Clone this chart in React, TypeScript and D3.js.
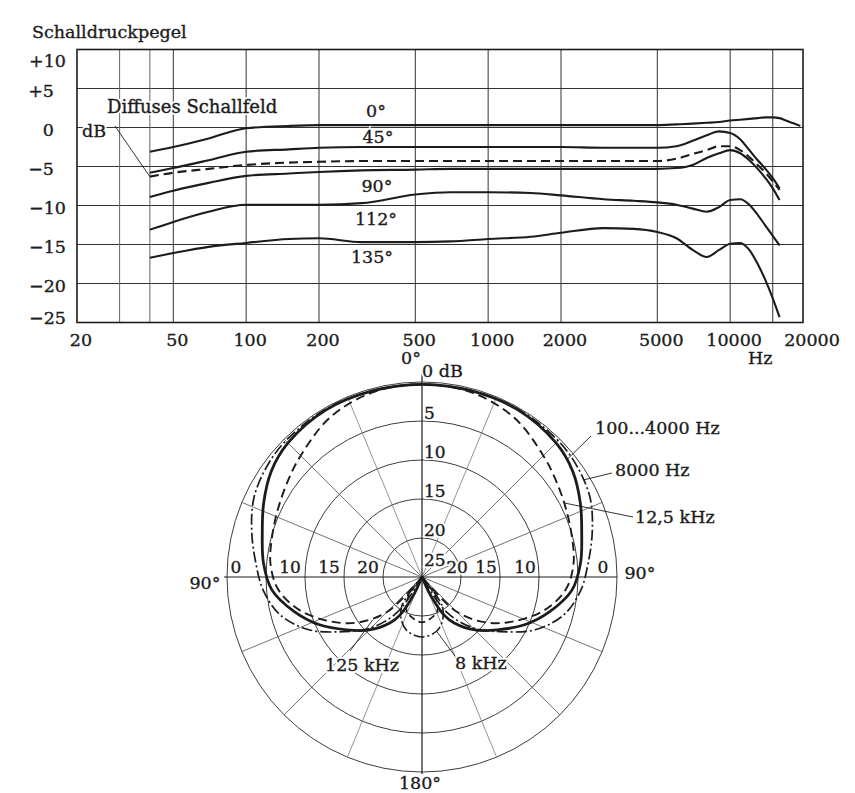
import React, { useRef, useEffect } from 'react';
import * as d3 from 'd3';

// Frequenzgang (oben) – Schalldruckpegel in dB je Einfallswinkel
const freqs = [40, 50, 70, 100, 150, 200, 300, 500, 700, 1000, 1500, 2000, 3000, 4000, 5000, 6000, 7000, 8000, 9000, 10000, 11000, 12000, 13000, 14000, 15000, 16000, 17000, 18000, 19500];
const deg0 = [-3.1, -2.5, -1.4, -0.1, 0.2, 0.3, 0.3, 0.3, 0.3, 0.3, 0.3, 0.3, 0.3, 0.3, 0.3, 0.4, 0.5, 0.6, 0.7, 0.9, 1.0, 1.1, 1.2, 1.3, 1.3, 1.2, 0.9, 0.6, 0.2];
const deg45 = [-5.8, -5.2, -4.2, -3.1, -2.8, -2.6, -2.5, -2.5, -2.5, -2.5, -2.5, -2.5, -2.6, -2.6, -2.6, -2.4, -1.7, -1.0, -0.5, -0.7, -1.5, -2.9, -4.2, -5.3, -6.5, -7.8, null, null, null];
const diffus = [-6.3, -5.8, -5.3, -4.8, -4.5, -4.4, -4.3, -4.3, -4.3, -4.3, -4.3, -4.3, -4.3, -4.3, -4.3, -4.0, -3.4, -2.9, -2.4, -2.4, -2.9, -3.8, -4.8, -5.8, -6.9, -8.0, null, null, null];
const deg90 = [-8.9, -8.1, -7.1, -6.2, -5.9, -5.7, -5.5, -5.4, -5.3, -5.3, -5.3, -5.3, -5.3, -5.3, -5.3, -5.2, -4.8, -3.9, -3.3, -2.9, -3.3, -4.2, -5.3, -6.5, -7.8, -9.3, null, null, null];
const deg112 = [-13.1, -12.1, -10.8, -9.9, -9.9, -9.9, -9.7, -8.6, -8.3, -8.3, -8.4, -8.7, -9.2, -9.4, -9.6, -9.9, -10.4, -10.8, -10.2, -9.3, -9.2, -9.9, -11.2, -12.6, -13.9, -15.1, null, null, null];
const deg135 = [-16.7, -16.1, -15.3, -14.8, -14.3, -14.2, -14.7, -14.7, -14.6, -14.3, -14.0, -13.5, -12.9, -13.0, -13.4, -14.2, -15.7, -16.6, -15.7, -14.9, -14.8, -15.7, -17.5, -19.6, -21.9, -24.3, null, null, null];

const yTicks = [10, 5, 0, -5, -10, -15, -20, -25];
const xTickLabels = [20, 50, 100, 200, 500, 1000, 2000, 5000, 10000, 20000];
const xGrid = [30, 40, 50, 100, 200, 500, 1000, 2000, 5000, 10000, 15000];

// Richtcharakteristik (unten) – Dämpfung in dB über dem Winkel
const polarAngles = [0, 15, 30, 45, 55, 65, 75, 85, 95, 105, 115, 125, 135, 145, 150, 155, 160];
const hz100to4000 = [0.3, 0.3, 0.3, 0.7, 1.4, 2.6, 3.8, 4.6, 5.7, 8.0, 10.5, 13.2, 15.4, 17.8, 19.4, 22.5, 25];
const hz8000 = [0.3, 0.3, 0.2, 0.3, 0.6, 1.2, 2.4, 3.6, 4.6, 6.2, 9.0, 12.8, 15.8, 19.5, 25, 25, 25];
const hz12500 = [0.3, 0.5, 1.4, 3.0, 3.9, 4.6, 5.1, 5.5, 6.5, 8.7, 11.7, 14.8, 18.7, 25, 25, 25, 25];
const rearAngles = [140, 145, 155, 165, 180];
const rear8000 = [25, 20.5, 18.8, 17.8, 17.3];
const rear12500 = [25, 22, 20.3, 19.7, 19.2];
const ringLevels = [0, 5, 10, 15, 20];
const spokeAngles = [22.5, 45, 67.5, 112.5, 135, 157.5];

const W = 855;
const H = 793;

const App = () => {
    const svgRef = useRef(null);

    useEffect(() => {
        const svg = d3.select(svgRef.current);
        svg.selectAll('*').remove();

        const font = "'DejaVu Serif', 'Liberation Serif', serif";
        const ink = '#1c1c1c';
        const gridInk = '#333';

        svg.append('rect').attr('width', W).attr('height', H).attr('fill', '#fff');

        // Text mit weißem Hof (überdeckt Linien wie im Druck) und leicht kräftigerem Strich
        const label = (g, txt, x, y, anchor = 'start', size = 17.5) => {
            const t = g.append('g')
                .attr('font-family', font)
                .attr('font-size', size)
                .attr('text-anchor', anchor);
            t.append('text').attr('x', x).attr('y', y)
                .attr('fill', '#fff').attr('stroke', '#fff').attr('stroke-width', 4)
                .text(txt);
            t.append('text').attr('x', x).attr('y', y)
                .attr('fill', ink).attr('stroke', ink).attr('stroke-width', 0.35)
                .text(txt);
        };

        // ---------- Frequenzgang ----------
        const x = d3.scaleLog().domain([20, 20000]).range([77, 803]);
        const y = d3.scaleLinear().domain([-25, 10]).range([322.5, 49.5]);
        const top = svg.append('g');

        top.selectAll('line.hg')
            .data(yTicks.filter(v => v > -25 && v < 10))
            .join('line').attr('class', 'hg')
            .attr('x1', x(20)).attr('x2', x(20000))
            .attr('y1', d => y(d)).attr('y2', d => y(d))
            .attr('stroke', gridInk).attr('stroke-width', 1);

        top.selectAll('line.vg')
            .data(xGrid)
            .join('line').attr('class', 'vg')
            .attr('x1', d => x(d)).attr('x2', d => x(d))
            .attr('y1', y(10)).attr('y2', y(-25))
            .attr('stroke', d => (d < 50 ? '#666' : gridInk)).attr('stroke-width', 1);

        top.append('rect')
            .attr('x', x(20)).attr('y', y(10))
            .attr('width', x(20000) - x(20)).attr('height', y(-25) - y(10))
            .attr('fill', 'none').attr('stroke', ink).attr('stroke-width', 1.6);

        const series = [
            { v: deg0, dash: null },
            { v: deg45, dash: null },
            { v: diffus, dash: '9,5' },
            { v: deg90, dash: null },
            { v: deg112, dash: null },
            { v: deg135, dash: null },
        ];
        const line = d3.line()
            .defined(d => d != null)
            .x((d, i) => x(freqs[i]))
            .y(d => y(d))
            .curve(d3.curveMonotoneX);

        series.forEach(s => {
            top.append('path')
                .attr('d', line(s.v))
                .attr('fill', 'none')
                .attr('stroke', ink)
                .attr('stroke-width', 2.1)
                .attr('stroke-dasharray', s.dash);
        });

        // Hinweislinie Diffusfeld
        top.append('line')
            .attr('x1', 115).attr('y1', 126)
            .attr('x2', x(freqs[0])).attr('y2', y(diffus[0]))
            .attr('stroke', ink).attr('stroke-width', 0.9);

        label(top, 'Schalldruckpegel', 32, 38);
        yTicks.forEach(v => {
            const txt = v > 0 ? `+${v}` : v < 0 ? `\u2212${-v}` : '0';
            const yy = Math.min(Math.max(y(v) + 2, 61), 318) + 6;
            label(top, txt, Math.abs(v) >= 10 ? 66 : 54, yy, 'end');
        });
        xTickLabels.forEach(v => {
            label(top, String(v), x(v) + (v === 20000 ? 9 : 4), 346, 'middle');
        });
        label(top, 'Hz', 748, 364);
        label(top, 'dB', 82, 137);
        label(top, 'Diffuses Schallfeld', 107, 113, 'start', 18);
        label(top, '0°', 376, 117, 'middle');
        label(top, '45°', 378, 143, 'middle');
        label(top, '90°', 377, 192, 'middle');
        label(top, '112°', 376, 225, 'middle');
        label(top, '135°', 372, 263, 'middle');

        // ---------- Polardiagramm ----------
        const cx = 422;
        const cy = 577;
        const r = d3.scaleLinear().domain([0, 25]).range([195, 0]).clamp(true);
        const rad = (deg) => (deg * Math.PI) / 180;
        const pp = (deg, db) => [cx + r(db) * Math.sin(rad(deg)), cy - r(db) * Math.cos(rad(deg))];

        const pol = svg.append('g');
        const pg = pol.append('g').attr('transform', `translate(${cx},${cy})`);

        pg.selectAll('circle.ring')
            .data(ringLevels)
            .join('circle').attr('class', 'ring')
            .attr('r', d => r(d))
            .attr('fill', 'none').attr('stroke', gridInk).attr('stroke-width', 0.95);

        const spokes = spokeAngles.flatMap(a => [a, -a]);
        pg.selectAll('line.spoke')
            .data(spokes)
            .join('line').attr('class', 'spoke')
            .attr('x1', 0).attr('y1', 0)
            .attr('x2', d => r(0) * Math.sin(rad(d)))
            .attr('y2', d => -r(0) * Math.cos(rad(d)))
            .attr('stroke', d => (Math.abs(d) === 22.5 || Math.abs(d) === 157.5 ? '#777' : '#505050'))
            .attr('stroke-width', 0.8);

        pg.append('line')
            .attr('x1', -r(0) - 3).attr('x2', r(0)).attr('y1', 0).attr('y2', 0)
            .attr('stroke', ink).attr('stroke-width', 1.2);
        pg.append('line')
            .attr('x1', 0).attr('x2', 0).attr('y1', -r(0) - 8).attr('y2', r(0) + 2)
            .attr('stroke', ink).attr('stroke-width', 1.2);

        const radial = d3.lineRadial()
            .angle(d => rad(d[0]))
            .radius(d => r(d[1]))
            .curve(d3.curveCatmullRom);

        const mainLobe = (vals) => {
            const pts = [];
            for (let i = 0; i < polarAngles.length; i++) {
                pts.push([polarAngles[i], vals[i]]);
                if (vals[i] >= 25) break;
            }
            return [...pts.slice(1).reverse().map(([a, v]) => [-a, v]), ...pts];
        };
        const rearLobe = (vals) => {
            const pts = rearAngles.map((a, i) => [a, vals[i]]);
            return [...pts, ...pts.slice(0, -1).reverse().map(([a, v]) => [360 - a, v])];
        };

        const polarCurves = [
            { d: mainLobe(hz12500), dash: '9,5', w: 1.9 },
            { d: rearLobe(rear12500), dash: '7,4', w: 1.7 },
            { d: mainLobe(hz8000), dash: '11,3,2,3', w: 1.7 },
            { d: rearLobe(rear8000), dash: '11,3,2,3', w: 1.6 },
            { d: mainLobe(hz100to4000), dash: null, w: 2.8 },
        ];
        polarCurves.forEach(c => {
            pg.append('path')
                .attr('d', radial(c.d))
                .attr('fill', 'none')
                .attr('stroke', ink)
                .attr('stroke-width', c.w)
                .attr('stroke-dasharray', c.dash);
        });

        // Hinweislinien
        const leaders = [
            [[591, 436], pp(51, 1.1)],
            [[612, 473], pp(59, 0.85)],
            [[633, 517], pp(62.6, 4.4)],
            [[350, 651], pp(-131, 16.6)],
            [[455, 656], pp(165, 17.8)],
        ];
        leaders.forEach(([a, b]) => {
            pol.append('line')
                .attr('x1', a[0]).attr('y1', a[1]).attr('x2', b[0]).attr('y2', b[1])
                .attr('stroke', ink).attr('stroke-width', 0.9);
        });

        // Skalenbeschriftung
        ringLevels.slice(1).concat([25]).forEach(v => {
            label(pol, String(v), 424, Math.min(cy - r(v) - 2, cy - 11), 'start', 17);
        });
        [0, 10, 15, 20].forEach(v => {
            label(pol, String(v), cx - r(v) + (v === 0 ? 9 : -15), 573, 'middle', 17);
        });
        [20, 15, 10, 0].forEach(v => {
            label(pol, String(v), cx + r(v) + (v === 20 ? -4 : -14), 573, 'middle', 17);
        });

        label(pol, '0°', 411, 364, 'middle');
        label(pol, '0 dB', 422, 377);
        label(pol, '90°', 205, 589, 'middle');
        label(pol, '90°', 640, 579, 'middle');
        label(pol, '180°', 420, 789, 'middle');

        label(pol, '100...4000 Hz', 595, 434);
        label(pol, '8000 Hz', 615, 476);
        label(pol, '12,5 kHz', 635, 523);
        label(pol, '125 kHz', 325, 671);
        label(pol, '8 kHz', 455, 669);
    }, []);

    return (
        <svg
            ref={svgRef}
            width={W}
            height={H}
            style={{ position: 'absolute', left: 0, top: 0, display: 'block' }}
        ></svg>
    );
};

export default App;
